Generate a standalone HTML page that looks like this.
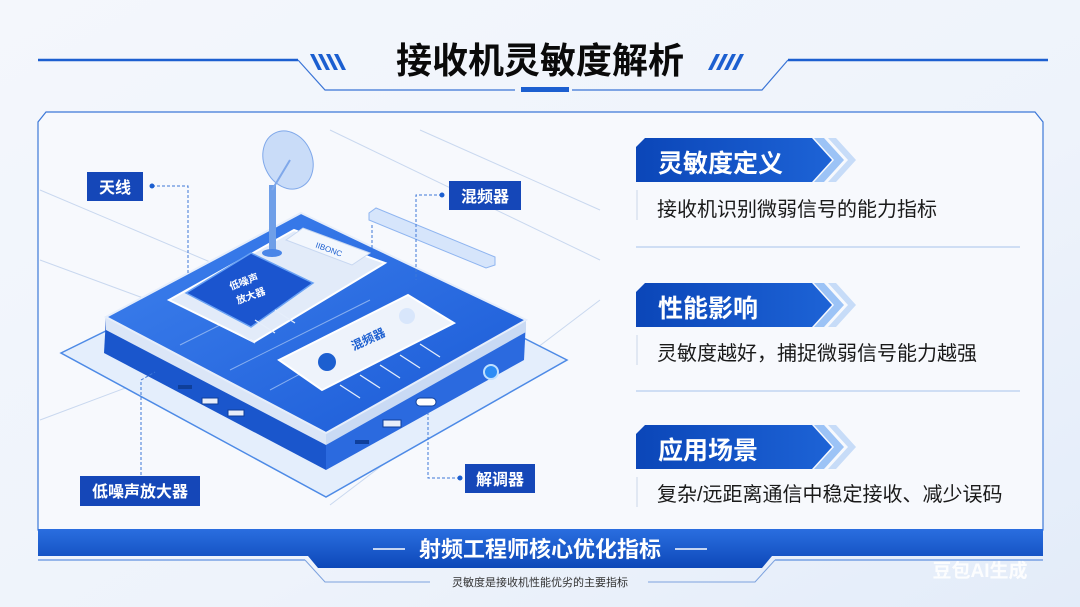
<!DOCTYPE html>
<html><head><meta charset="utf-8"><style>
html,body{margin:0;padding:0;width:1080px;height:607px;overflow:hidden;background:#eef3fb;}
svg text{font-family:"Liberation Sans","Noto Sans CJK SC",sans-serif;}
</style></head><body>
<svg width="1080" height="607" viewBox="0 0 1080 607" xmlns="http://www.w3.org/2000/svg">
<defs>
<linearGradient id="bg" x1="0" y1="0" x2="1" y2="1"><stop offset="0" stop-color="#f4f7fc"/><stop offset="0.6" stop-color="#eef3fb"/><stop offset="1" stop-color="#e3ecf9"/></linearGradient>
<linearGradient id="hd" x1="0" y1="0" x2="1" y2="0"><stop offset="0" stop-color="#0b46b8"/><stop offset="1" stop-color="#1d63d6"/></linearGradient>
<linearGradient id="band" x1="0" y1="0" x2="0" y2="1"><stop offset="0" stop-color="#2a6ee0"/><stop offset="1" stop-color="#0d48b8"/></linearGradient>
<linearGradient id="top" x1="0" y1="0" x2="1" y2="1"><stop offset="0" stop-color="#3f82ee"/><stop offset="1" stop-color="#1a5ad6"/></linearGradient>
</defs>
<rect width="1080" height="607" fill="url(#bg)"/>
<!-- title -->
<line x1="38" y1="60" x2="298" y2="60" stroke="#1c5fd0" stroke-width="2.5"/>
<line x1="788" y1="60" x2="1048" y2="60" stroke="#1c5fd0" stroke-width="2.5"/>
<polyline points="298,60 325,90 515,90" fill="none" stroke="#3a74d6" stroke-width="1.2"/>
<polyline points="788,60 762,90 572,90" fill="none" stroke="#3a74d6" stroke-width="1.2"/>
<rect x="521" y="87" width="48" height="5" fill="#1c5fd0"/>
<g fill="#1c5fd0">
<polygon points="310,54 314,54 322,70 318,70"/><polygon points="318,54 322,54 330,70 326,70"/><polygon points="326,54 330,54 338,70 334,70"/><polygon points="334,54 338,54 346,70 342,70"/>
<polygon points="716,54 720,54 712,70 708,70"/><polygon points="724,54 728,54 720,70 716,70"/><polygon points="732,54 736,54 728,70 724,70"/><polygon points="740,54 744,54 736,70 732,70"/>
</g>
<text x="540" y="73" font-size="36" font-weight="bold" text-anchor="middle" fill="#0a0a0a">接收机灵敏度解析</text>
<!-- main frame -->
<polygon points="46,112 1035,112 1043,122 1043,530 38,530 38,122" fill="#f7f9fd" stroke="#3d78d8" stroke-width="1.2"/>
<g stroke="#c9d8ef" stroke-width="1" fill="none">
<line x1="40" y1="190" x2="300" y2="300"/><line x1="40" y1="260" x2="230" y2="330"/><line x1="330" y1="130" x2="600" y2="260"/><line x1="420" y1="130" x2="600" y2="210"/>
<line x1="40" y1="420" x2="200" y2="360"/><line x1="600" y1="300" x2="330" y2="505"/>
</g>
<!-- base plate -->
<polygon points="61,353 311,230 567,360 326,497" fill="#e4eefc" stroke="#4d8ae6" stroke-width="1.5"/>
<!-- box sides -->
<polygon points="106,317 326,433 326,470 104,353" fill="#1a56cc"/>
<polygon points="326,433 526,320 524,360 326,470" fill="#2b6adf"/>
<polygon points="106,317 326,433 326,445 106,330" fill="#dbe6f7"/>
<polygon points="326,433 526,320 526,332 326,445" fill="#c9daf4"/>
<!-- box top -->
<polygon points="106,317 301,213 526,320 326,433" fill="url(#top)" stroke="#e6eefb" stroke-width="2"/>
<g stroke="#9fc0f4" stroke-width="1" fill="none" opacity="0.8">
<line x1="180" y1="345" x2="330" y2="270"/><line x1="230" y1="370" x2="370" y2="300"/><line x1="270" y1="390" x2="420" y2="310"/>
</g>
<g fill="#0f3f9a"><rect x="178" y="385" width="14" height="4"/><rect x="202" y="398" width="16" height="6" fill="#e8eefa" stroke="#0f3f9a"/><rect x="228" y="410" width="16" height="6" fill="#e8eefa" stroke="#0f3f9a"/><rect x="355" y="440" width="14" height="4"/><rect x="383" y="420" width="18" height="7" fill="#e8eefa" stroke="#0f3f9a"/><rect x="416" y="398" width="20" height="8" rx="4" fill="#fff" stroke="#0f3f9a"/></g>
<circle cx="491" cy="372" r="7" fill="#2b8cf5" stroke="#bfe0ff" stroke-width="2"/>
<!-- LNA slab -->
<polygon points="169,300 294,230 385,263 254,342" fill="#e2ebf9" stroke="#fff" stroke-width="2"/>
<polygon points="186,293 251,253 313,283 251,327" fill="#1b55cf" stroke="#6aa2f4" stroke-width="1.5"/>
<text x="245" y="285" font-size="10" fill="#fff" font-weight="bold" text-anchor="middle" transform="rotate(-20 245 285)">低噪声</text>
<text x="252" y="299" font-size="10" fill="#fff" font-weight="bold" text-anchor="middle" transform="rotate(-20 252 299)">放大器</text>
<polygon points="286,240 303,228 370,253 352,265" fill="#f3f7fd" stroke="#c7d7f1"/>
<text x="328" y="252" font-size="8" fill="#1c5fd0" text-anchor="middle" transform="rotate(20 328 252)">IIBONC</text>
<!-- antenna -->
<rect x="269" y="185" width="7" height="68" fill="#6f9fe8"/>
<ellipse cx="272" cy="253" rx="10" ry="4" fill="#4a86e8"/>
<ellipse cx="288" cy="160" rx="24" ry="30" fill="#c9dcf8" stroke="#7fa8ea" transform="rotate(-25 288 160)"/>
<line x1="272" y1="190" x2="290" y2="160" stroke="#7fa8ea" stroke-width="2"/>
<polygon points="369,213 376,208 495,257 495,265 486,268 369,220" fill="#d6e5fb" stroke="#8fb5f0"/>
<!-- mixer slab -->
<polygon points="279,360 408,295 454,323 322,390" fill="#eef3fb" stroke="#fff" stroke-width="2"/>
<text x="370" y="343" font-size="12" fill="#1c5fd0" font-weight="bold" text-anchor="middle" transform="rotate(-25 370 343)">混频器</text>
<circle cx="327" cy="362" r="9" fill="#1c5fd0"/>
<circle cx="407" cy="316" r="8" fill="#d8e6fb"/>
<g stroke="#e6eefb" stroke-width="1.3"><line x1="340" y1="385" x2="360" y2="398"/><line x1="360" y1="375" x2="380" y2="388"/><line x1="380" y1="365" x2="400" y2="378"/><line x1="400" y1="355" x2="420" y2="368"/><line x1="420" y1="344" x2="440" y2="357"/><line x1="235" y1="330" x2="255" y2="343"/><line x1="255" y1="320" x2="275" y2="333"/><line x1="275" y1="310" x2="295" y2="323"/></g>
<!-- callouts -->
<g stroke="#3d78d8" stroke-width="1" stroke-dasharray="3,2" fill="none">
<polyline points="152,186 188,186 188,276"/>
<polyline points="442,195 416,195 416,280"/>
<polyline points="141,490 141,380 155,372"/>
<polyline points="460,478 428,478 428,412"/>
<polyline points="372,225 372,250"/>
</g>
<g fill="#1c5fd0"><circle cx="152" cy="186" r="2.5"/><circle cx="442" cy="195" r="2.5"/><circle cx="141" cy="490" r="2.5"/><circle cx="460" cy="478" r="2.5"/></g>
<g font-size="16" font-weight="bold" fill="#fff">
<rect x="87" y="172" width="56" height="29" fill="#1547b8"/><text x="115" y="193" text-anchor="middle">天线</text>
<rect x="449" y="181" width="72" height="29" fill="#1547b8"/><text x="485" y="202" text-anchor="middle">混频器</text>
<rect x="80" y="476" width="120" height="30" fill="#1547b8"/><text x="140" y="497" text-anchor="middle">低噪声放大器</text>
<rect x="465" y="464" width="70" height="29" fill="#1547b8"/><text x="500" y="485" text-anchor="middle">解调器</text>
</g>
<!-- right panel -->
<g>
<polygon points="645,138 812,138 832,160 812,182 636,182 636,147" fill="url(#hd)"/>
<polygon points="814,138 824,138 844,160 824,182 814,182 834,160" fill="#9cc3f6"/>
<polygon points="828,138 836,138 856,160 836,182 828,182 848,160" fill="#c7dcf8"/>
<text x="658" y="172" font-size="25" font-weight="bold" fill="#fff">灵敏度定义</text>
<rect x="636" y="190" width="2" height="30" fill="#e1e8f3"/>
<text x="657" y="216" font-size="20" fill="#1a1a1a">接收机识别微弱信号的能力指标</text>
<line x1="636" y1="247" x2="1020" y2="247" stroke="#b7cdee" stroke-width="1.2"/>
<polygon points="645,283 812,283 832,305 812,327 636,327 636,292" fill="url(#hd)"/>
<polygon points="814,283 824,283 844,305 824,327 814,327 834,305" fill="#9cc3f6"/>
<polygon points="828,283 836,283 856,305 836,327 828,327 848,305" fill="#c7dcf8"/>
<text x="658" y="317" font-size="25" font-weight="bold" fill="#fff">性能影响</text>
<rect x="636" y="335" width="2" height="30" fill="#e1e8f3"/>
<text x="657" y="360" font-size="20" fill="#1a1a1a">灵敏度越好，捕捉微弱信号能力越强</text>
<line x1="636" y1="391" x2="1020" y2="391" stroke="#b7cdee" stroke-width="1.2"/>
<polygon points="645,425 812,425 832,447 812,469 636,469 636,434" fill="url(#hd)"/>
<polygon points="814,425 824,425 844,447 824,469 814,469 834,447" fill="#9cc3f6"/>
<polygon points="828,425 836,425 856,447 836,469 828,469 848,447" fill="#c7dcf8"/>
<text x="658" y="459" font-size="25" font-weight="bold" fill="#fff">应用场景</text>
<rect x="636" y="477" width="2" height="30" fill="#e1e8f3"/>
<text x="657" y="501" font-size="20" fill="#1a1a1a">复杂/远距离通信中稳定接收、减少误码</text>
</g>
<!-- bottom band -->
<polygon points="38,529 1043,529 1043,556 772,556 762,568 318,568 308,556 38,556" fill="url(#band)"/>
<line x1="38" y1="560" x2="305" y2="560" stroke="#3d78d8"/>
<line x1="775" y1="560" x2="1043" y2="560" stroke="#3d78d8"/>
<polyline points="305,560 325,582 430,582" fill="none" stroke="#7da2de"/>
<polyline points="775,560 755,582 648,582" fill="none" stroke="#7da2de"/>
<line x1="373" y1="549" x2="405" y2="549" stroke="#fff" stroke-width="1.5"/>
<line x1="675" y1="549" x2="707" y2="549" stroke="#fff" stroke-width="1.5"/>
<text x="540" y="557" font-size="22" font-weight="bold" text-anchor="middle" fill="#fff">射频工程师核心优化指标</text>
<text x="540" y="586" font-size="11" text-anchor="middle" fill="#333">灵敏度是接收机性能优劣的主要指标</text>
<text x="980" y="577" font-size="19" font-weight="bold" text-anchor="middle" fill="#fff" opacity="0.9">豆包AI生成</text>
</svg>
</body></html>
